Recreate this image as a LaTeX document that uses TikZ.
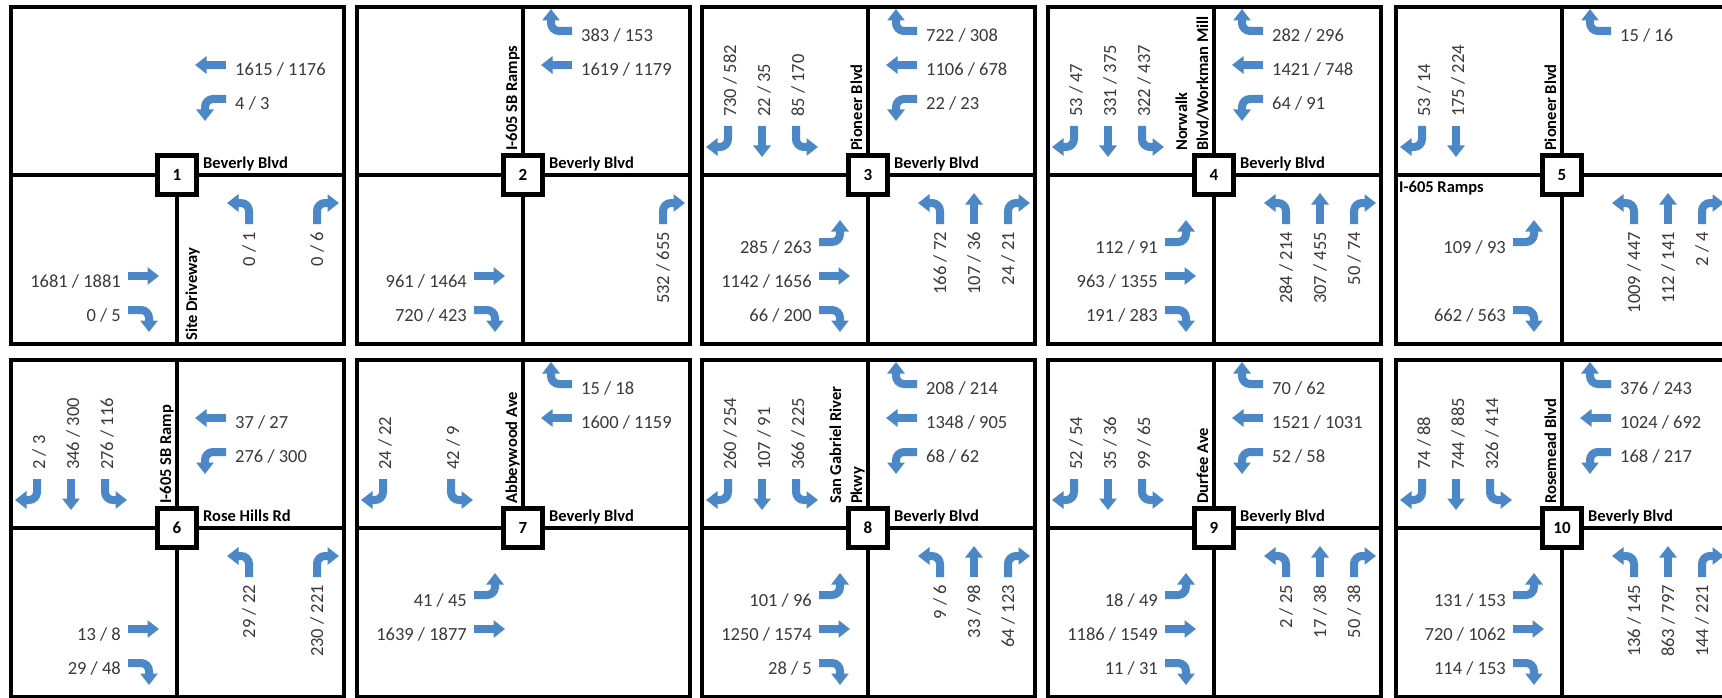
\documentclass[tikz,border=0pt]{standalone}
\usepackage{fontspec}
\setmainfont{Carlito}
\usetikzlibrary{arrows.meta}
\definecolor{flowblue}{RGB}{76,136,199}
\definecolor{numgray}{RGB}{58,58,58}
\tikzset{
  frame/.style={draw=black, line width=4pt},
  road/.style={draw=black, line width=4pt},
  numbox/.style={draw=black, fill=white, line width=4.8pt, minimum size=39pt, inner sep=0pt, font=\bfseries\fontsize{17}{17}\selectfont},
  vol/.style={text=numgray, inner sep=0pt, font=\fontsize{18.5}{18.5}\selectfont},
  rlab/.style={text=black, inner sep=0pt, font=\bfseries\fontsize{16.5}{16.5}\selectfont},
  flow/.style={draw=flowblue, line width=8pt, -{Triangle[width=17pt,length=11.5pt]}},
  pics/mvT/.style={code={\draw[flow] (#1,49) -- (#1,18);}},
  pics/mvL/.style={code={\draw[flow, rounded corners=8pt] (#1,49) |- (#1-22,28);}},
  pics/mvR/.style={code={\draw[flow, rounded corners=8pt] (#1,49) |- (#1+22,28);}},
}
% approach macros: id, L, T, R
\newcommand\NB[4]{%
  \ifx&#2&\else\pic at (0,0) {mvL=72}; \node[vol,rotate=90,anchor=east] (#1-nbL) at (72,57) {#2};\fi
  \ifx&#3&\else\pic at (0,0) {mvT=106}; \node[vol,rotate=90,anchor=east] (#1-nbT) at (106,57) {#3};\fi
  \ifx&#4&\else\pic at (0,0) {mvR=140}; \node[vol,rotate=90,anchor=east] (#1-nbR) at (140,57) {#4};\fi
}
\newcommand\SB[4]{%
  \ifx&#2&\else\pic[rotate=180] at (0,0) {mvL=72}; \node[vol,rotate=90,anchor=west] (#1-sbL) at (-70,-58) {#2};\fi
  \ifx&#3&\else\pic[rotate=180] at (0,0) {mvT=106}; \node[vol,rotate=90,anchor=west] (#1-sbT) at (-104,-58) {#3};\fi
  \ifx&#4&\else\pic[rotate=180] at (0,0) {mvR=140}; \node[vol,rotate=90,anchor=west] (#1-sbR) at (-138,-58) {#4};\fi
}
\newcommand\EB[4]{%
  \ifx&#2&\else\pic[rotate=-90] at (0,0) {mvL=67}; \node[vol,anchor=east] (#1-ebL) at (-56,72) {#2};\fi
  \ifx&#3&\else\pic[rotate=-90] at (0,0) {mvT=101}; \node[vol,anchor=east] (#1-ebT) at (-56,106) {#3};\fi
  \ifx&#4&\else\pic[rotate=-90] at (0,0) {mvR=135}; \node[vol,anchor=east] (#1-ebR) at (-56,140) {#4};\fi
}
\newcommand\WB[4]{%
  \ifx&#2&\else\pic[rotate=90] at (0,0) {mvL=76}; \node[vol,anchor=west] (#1-wbL) at (58,-72) {#2};\fi
  \ifx&#3&\else\pic[rotate=90] at (0,0) {mvT=110}; \node[vol,anchor=west] (#1-wbT) at (58,-106) {#3};\fi
  \ifx&#4&\else\pic[rotate=90] at (0,0) {mvR=144}; \node[vol,anchor=west] (#1-wbR) at (58,-140) {#4};\fi
}
\newcommand\Frame[1]{%
  \draw[frame] (-166,-168) rectangle (167,169);
  \coordinate (#1-w) at (-166,0); \coordinate (#1-e) at (167,0);
  \coordinate (#1-n) at (0,-168); \coordinate (#1-s) at (0,169);
  \coordinate (#1-c) at (0,0);
}
\newcommand\NumBox[2]{\node[numbox] (#1-box) at (0,0) {#2};}
\newcommand\HLab[2]{\node[rlab,anchor=base west] (#1-hl) at (26,-7) {#2};}
\newcommand\VLab[2]{\node[rlab,rotate=90,anchor=base west] (#1-vl) at (-6,-24) {#2};}
\newcommand\VLabB[3]{\node[rlab,rotate=90,anchor=base west] (#1-vla) at (-27,-24) {#2};
  \node[rlab,rotate=90,anchor=base west] (#1-vlb) at (-6,-24) {#3};}
\begin{document}
\begin{tikzpicture}[x=1pt,y=-1pt]
\clip (0,0) rectangle (1722,698);
\fill[white] (0,0) rectangle (1722,698);
% ---------- Panel 1
\begin{scope}[shift={(177,175)}]
  \Frame{p1}
  \draw[road] (p1-w) -- (p1-e);
  \draw[road] (p1-c) -- (p1-s);
  \WB{p1}{4 / 3}{1615 / 1176}{}
  \NB{p1}{0 / 1}{}{0 / 6}
  \EB{p1}{}{1681 / 1881}{0 / 5}
  \HLab{p1}{Beverly Blvd}
  \node[rlab,rotate=90,anchor=base west] (p1-vl) at (20,166) {Site Driveway};
  \NumBox{p1}{1}
\end{scope}
% ---------- Panel 2
\begin{scope}[shift={(523,175)}]
  \Frame{p2}
  \draw[road] (p2-w) -- (p2-e);
  \draw[road] (p2-n) -- (p2-s);
  \WB{p2}{}{1619 / 1179}{383 / 153}
  \NB{p2}{}{}{532 / 655}
  \EB{p2}{}{961 / 1464}{720 / 423}
  \HLab{p2}{Beverly Blvd}
  \VLab{p2}{I-605 SB Ramps}
  \NumBox{p2}{2}
\end{scope}
% ---------- Panel 3
\begin{scope}[shift={(868,175)}]
  \Frame{p3}
  \draw[road] (p3-w) -- (p3-e);
  \draw[road] (p3-n) -- (p3-s);
  \SB{p3}{85 / 170}{22 / 35}{730 / 582}
  \WB{p3}{22 / 23}{1106 / 678}{722 / 308}
  \EB{p3}{285 / 263}{1142 / 1656}{66 / 200}
  \NB{p3}{166 / 72}{107 / 36}{24 / 21}
  \HLab{p3}{Beverly Blvd}
  \VLab{p3}{Pioneer Blvd}
  \NumBox{p3}{3}
\end{scope}
% ---------- Panel 4
\begin{scope}[shift={(1214,175)}]
  \Frame{p4}
  \draw[road] (p4-w) -- (p4-e);
  \draw[road] (p4-n) -- (p4-s);
  \SB{p4}{322 / 437}{331 / 375}{53 / 47}
  \WB{p4}{64 / 91}{1421 / 748}{282 / 296}
  \EB{p4}{112 / 91}{963 / 1355}{191 / 283}
  \NB{p4}{284 / 214}{307 / 455}{50 / 74}
  \HLab{p4}{Beverly Blvd}
  \VLabB{p4}{Norwalk}{Blvd/Workman Mill}
  \NumBox{p4}{4}
\end{scope}
% ---------- Panel 5
\begin{scope}[shift={(1562,175)}]
  \Frame{p5}
  \draw[road] (p5-w) -- (p5-e);
  \draw[road] (p5-n) -- (p5-s);
  \SB{p5}{}{175 / 224}{53 / 14}
  \WB{p5}{}{}{15 / 16}
  \EB{p5}{109 / 93}{}{662 / 563}
  \NB{p5}{1009 / 447}{112 / 141}{2 / 4}
  \node[rlab,anchor=base west] (p5-hl) at (-163,18) {I-605 Ramps};
  \VLab{p5}{Pioneer Blvd}
  \NumBox{p5}{5}
\end{scope}
% ---------- Panel 6
\begin{scope}[shift={(177,528)}]
  \Frame{p6}
  \draw[road] (p6-w) -- (p6-e);
  \draw[road] (p6-n) -- (p6-s);
  \SB{p6}{276 / 116}{346 / 300}{2 / 3}
  \WB{p6}{276 / 300}{37 / 27}{}
  \EB{p6}{}{13 / 8}{29 / 48}
  \NB{p6}{29 / 22}{}{230 / 221}
  \HLab{p6}{Rose Hills Rd}
  \VLab{p6}{I-605 SB Ramp}
  \NumBox{p6}{6}
\end{scope}
% ---------- Panel 7
\begin{scope}[shift={(523,528)}]
  \Frame{p7}
  \draw[road] (p7-w) -- (p7-e);
  \draw[road] (p7-n) -- (p7-c);
  \SB{p7}{42 / 9}{}{24 / 22}
  \WB{p7}{}{1600 / 1159}{15 / 18}
  \EB{p7}{41 / 45}{1639 / 1877}{}
  \HLab{p7}{Beverly Blvd}
  \VLab{p7}{Abbeywood Ave}
  \NumBox{p7}{7}
\end{scope}
% ---------- Panel 8
\begin{scope}[shift={(868,528)}]
  \Frame{p8}
  \draw[road] (p8-w) -- (p8-e);
  \draw[road] (p8-n) -- (p8-s);
  \SB{p8}{366 / 225}{107 / 91}{260 / 254}
  \WB{p8}{68 / 62}{1348 / 905}{208 / 214}
  \EB{p8}{101 / 96}{1250 / 1574}{28 / 5}
  \NB{p8}{9 / 6}{33 / 98}{64 / 123}
  \HLab{p8}{Beverly Blvd}
  \VLabB{p8}{San Gabriel River}{Pkwy}
  \NumBox{p8}{8}
\end{scope}
% ---------- Panel 9
\begin{scope}[shift={(1214,528)}]
  \Frame{p9}
  \draw[road] (p9-w) -- (p9-e);
  \draw[road] (p9-n) -- (p9-s);
  \SB{p9}{99 / 65}{35 / 36}{52 / 54}
  \WB{p9}{52 / 58}{1521 / 1031}{70 / 62}
  \EB{p9}{18 / 49}{1186 / 1549}{11 / 31}
  \NB{p9}{2 / 25}{17 / 38}{50 / 38}
  \HLab{p9}{Beverly Blvd}
  \VLab{p9}{Durfee Ave}
  \NumBox{p9}{9}
\end{scope}
% ---------- Panel 10
\begin{scope}[shift={(1562,528)}]
  \Frame{p10}
  \draw[road] (p10-w) -- (p10-e);
  \draw[road] (p10-n) -- (p10-s);
  \SB{p10}{326 / 414}{744 / 885}{74 / 88}
  \WB{p10}{168 / 217}{1024 / 692}{376 / 243}
  \EB{p10}{131 / 153}{720 / 1062}{114 / 153}
  \NB{p10}{136 / 145}{863 / 797}{144 / 221}
  \HLab{p10}{Beverly Blvd}
  \VLab{p10}{Rosemead Blvd}
  \NumBox{p10}{10}
\end{scope}
\end{tikzpicture}
\end{document}
